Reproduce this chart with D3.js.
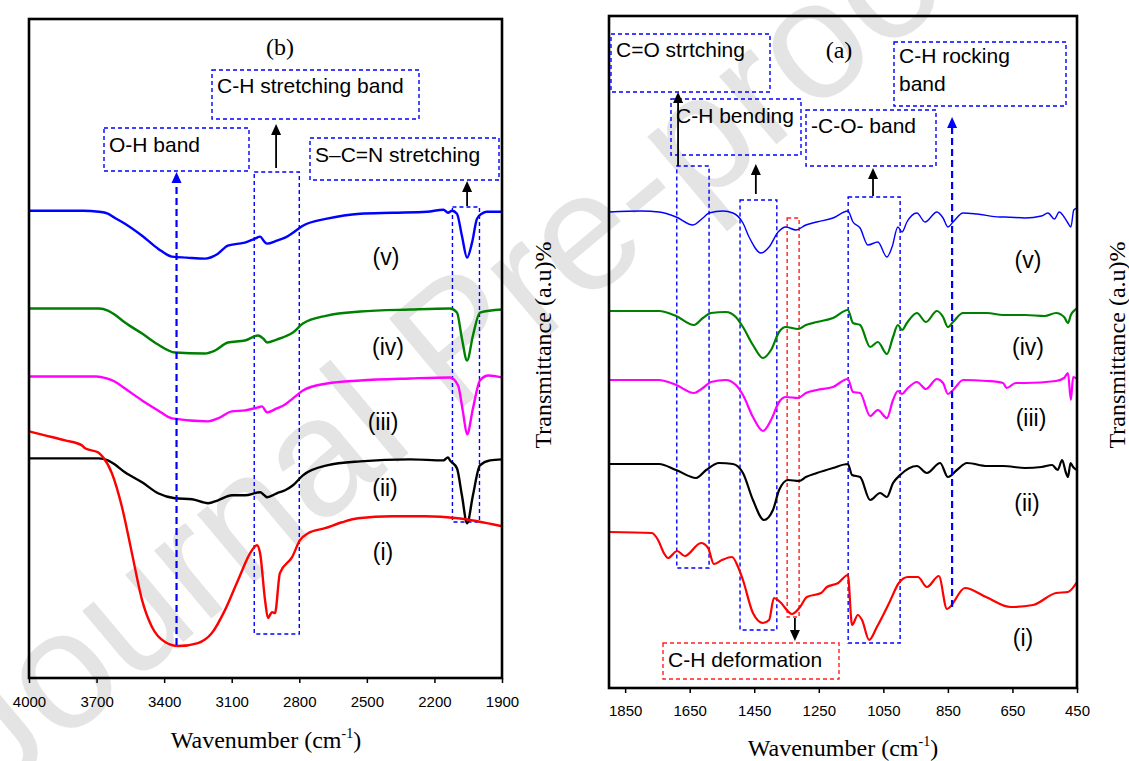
<!DOCTYPE html>
<html>
<head>
<meta charset="utf-8">
<script src="https://cdn.jsdelivr.net/npm/d3@7"></script>
<style>
  body { margin: 0; background: #fff; }
  svg { display: block; }
  .tick text { font-family: "Liberation Sans", Arial, sans-serif; font-size: 15px; fill: #000; }
  .tick line { stroke: #000; stroke-width: 1.5; }
</style>
</head>
<body>
<svg width="1129" height="761"></svg>
<script>
// ---- panel (b): 4000 - 1900 cm-1, transmittance in arbitrary units ----
var ticksB = [4000, 3700, 3400, 3100, 2800, 2500, 2200, 1900];
var labelsB = ["(v)", "(iv)", "(iii)", "(ii)", "(i)"];

var bV = [[4000,468],[3850,468],[3760,468],[3690,467],[3650,465],[3620,461],[3574,455],[3498,443],[3427,430],[3365,422],[3300,421],[3219,420],[3161,425],[3117,433],[3070,435],[3041,436],[2997,440],[2974,442],[2955,437],[2943,435],[2900,438],[2863,441],[2828,446],[2784,453],[2677,460],[2530,465],[2384,466],[2233,467],[2160,469],[2140,466],[2122,468],[2100,465],[2078,443],[2055,421],[2033,436],[2011,460],[1990,465],[1967,467],[1900,467]];
var bIV = [[4000,370],[3850,370],[3690,370],[3650,368],[3620,364],[3574,356],[3498,345],[3427,334],[3352,326],[3219,325],[3174,328],[3117,336],[3041,338],[2983,343],[2960,340],[2943,336],[2900,339],[2863,342],[2828,346],[2784,355],[2677,363],[2530,367],[2308,369],[2131,370],[2100,366],[2078,340],[2055,318],[2029,343],[1998,366],[1900,369]];
var bIII = [[4000,302],[3850,302],[3700,302],[3655,300],[3620,297],[3574,290],[3498,278],[3427,268],[3365,260],[3205,257],[3161,260],[3099,267],[3041,268],[2983,271],[2966,272],[2943,266],[2900,270],[2863,274],[2828,280],[2784,288],[2677,295],[2530,298],[2308,300],[2131,301],[2095,293],[2073,266],[2055,244],[2029,270],[1998,298],[1960,303],[1900,301]];
var bII = [[4000,220],[3850,220],[3690,220],[3650,218],[3620,214],[3574,206],[3498,196],[3427,185],[3352,180],[3276,179],[3205,175],[3161,178],[3099,183],[3041,183],[2974,186],[2955,183],[2943,181],[2900,185],[2863,188],[2828,193],[2784,203],[2677,213],[2530,217],[2308,219],[2160,218],[2140,221],[2131,218],[2100,210],[2078,183],[2055,155],[2029,183],[1998,213],[1953,218],[1900,219]];
var bI = [[4000,247],[3929,243],[3840,238],[3765,233],[3751,230],[3694,226],[3671,221],[3632,205],[3587,171],[3543,125],[3498,78],[3454,51],[3396,36],[3338,32],[3250,35],[3188,45],[3130,68],[3072,98],[3010,128],[2988,133],[2974,125],[2952,78],[2939,60],[2921,66],[2908,65],[2886,105],[2832,121],[2797,138],[2761,145],[2686,150],[2610,156],[2539,160],[2388,162],[2242,162],[2095,160],[1900,152]];

// ---- panel (a): 1900 - 450 cm-1 ----
var ticksA = [1850, 1650, 1450, 1250, 1050, 850, 650, 450];
var labelsA = ["(v)", "(iv)", "(iii)", "(ii)", "(i)"];

var aV = [[1900,476],[1800,477],[1745,476],[1692,471],[1640,463],[1609,470],[1590,475],[1547,477],[1516,475],[1485,465],[1466,451],[1429,435],[1404,441],[1376,456],[1352,461],[1321,458],[1290,463],[1256,466],[1206,470],[1160,477],[1144,466],[1122,460],[1098,443],[1067,446],[1039,431],[1023,441],[1005,461],[992,456],[977,466],[946,475],[921,466],[884,476],[865,470],[850,461],[834,466],[803,475],[760,474],[689,471],[673,471],[611,470],[560,472],[540,475],[520,469],[505,476],[490,471],[480,466],[469,461],[460,478],[450,480]];
var aIV = [[1900,377],[1745,377],[1692,372],[1637,363],[1609,370],[1584,375],[1538,376],[1507,371],[1485,361],[1454,343],[1423,330],[1398,338],[1373,356],[1352,361],[1314,359],[1290,363],[1256,366],[1206,370],[1160,378],[1144,365],[1122,363],[1091,341],[1067,346],[1039,334],[1020,351],[1005,363],[992,358],[977,365],[946,375],[918,366],[884,377],[865,371],[850,361],[834,366],[803,375],[729,375],[679,373],[611,373],[550,372],[515,375],[490,371],[478,365],[469,373],[460,377],[450,380]];
var aIII = [[1900,308],[1745,308],[1692,303],[1637,295],[1609,300],[1584,306],[1538,308],[1507,303],[1485,293],[1454,271],[1423,257],[1398,268],[1373,286],[1352,291],[1314,290],[1290,295],[1256,298],[1206,301],[1160,309],[1144,296],[1122,295],[1091,272],[1067,278],[1039,270],[1020,288],[1005,297],[992,294],[977,299],[946,306],[918,299],[884,309],[865,305],[850,294],[834,298],[803,308],[729,307],[679,305],[668,300],[640,305],[611,305],[515,307],[490,310],[478,315],[469,288],[462,311],[450,309]];
var aII = [[1900,224],[1745,224],[1692,218],[1630,210],[1599,218],[1559,225],[1516,224],[1485,215],[1454,188],[1420,168],[1392,178],[1373,198],[1345,208],[1311,207],[1290,211],[1256,215],[1206,220],[1160,224],[1147,213],[1122,211],[1091,188],[1060,195],[1039,191],[1020,205],[998,213],[946,222],[915,215],[874,225],[850,211],[822,218],[791,225],[729,222],[679,222],[611,220],[560,221],[527,223],[510,218],[496,228],[485,216],[478,211],[470,225],[462,221],[450,218]];
var aI = [[1900,156],[1767,155],[1748,148],[1730,135],[1717,130],[1689,137],[1665,132],[1615,145],[1593,140],[1575,124],[1550,128],[1519,131],[1500,121],[1485,108],[1454,75],[1423,65],[1404,68],[1389,90],[1370,86],[1333,74],[1308,81],[1287,91],[1243,95],[1225,101],[1190,105],[1160,113],[1147,63],[1129,73],[1116,68],[1094,48],[1070,61],[1032,85],[1002,105],[974,111],[943,111],[915,101],[878,112],[853,79],[797,100],[732,91],[655,81],[586,83],[515,95],[478,96],[450,106]];

var colors = ["#0000ff", "#008000", "#ff00ff", "#000000", "#ff0000"];

var svg = d3.select("svg");
var sans = '"Liberation Sans", Arial, sans-serif';
var serif = '"Liberation Serif", "Times New Roman", serif';

// watermark
svg.append("text")
  .attr("transform", "translate(-5,800) rotate(-40)")
  .attr("font-family", sans)
  .attr("font-size", 168)
  .attr("fill", "#e4e4e4")
  .text("Journal Pre-proof");

function drawPanel(p) {
  var x = d3.scaleLinear().domain(p.xDomain).range([p.left, p.right]);
  var y = d3.scaleLinear().domain(p.yDomain).range([p.bottom, p.top]);

  var line = d3.line()
    .x(function(d) { return x(d[0]); })
    .y(function(d) { return y(d[1]); })
    .curve(d3.curveMonotoneX);

  var g = svg.append("g");

  // dashed band boxes behind the curves
  p.bands.forEach(function(b) {
    g.append("rect")
      .attr("x", x(b.w0)).attr("y", b.y0)
      .attr("width", x(b.w1) - x(b.w0)).attr("height", b.y1 - b.y0)
      .attr("fill", "none")
      .attr("stroke", b.color || "#0000ff")
      .attr("stroke-width", 1.4)
      .attr("stroke-dasharray", "4,3");
  });

  p.series.forEach(function(s, i) {
    g.append("path")
      .datum(s)
      .attr("d", line)
      .attr("fill", "none")
      .attr("stroke", colors[i])
      .attr("stroke-width", p.widths[i])
      .attr("stroke-linejoin", "round");
  });

  // frame
  g.append("rect")
    .attr("x", p.left).attr("y", p.top)
    .attr("width", p.right - p.left).attr("height", p.bottom - p.top)
    .attr("fill", "none").attr("stroke", "#000").attr("stroke-width", 2.6);

  var ax = g.append("g")
    .attr("transform", "translate(0," + p.bottom + ")")
    .call(d3.axisBottom(x).tickValues(p.ticks).tickSize(5).tickPadding(p.pad).tickFormat(d3.format("d")));
  ax.select(".domain").remove();

  var t = g.append("text")
    .attr("x", p.titleX).attr("y", p.titleY)
    .attr("text-anchor", "middle")
    .attr("font-family", serif).attr("font-size", 24)
    .text("Wavenumber (cm");
  t.append("tspan").attr("font-size", 14).attr("dy", -10).text("-1");
  t.append("tspan").attr("dy", 10).text(")");

  // spectrum labels
  p.labels.forEach(function(l, i) {
    g.append("text")
      .attr("x", p.labelPos[i][0]).attr("y", p.labelPos[i][1])
      .attr("dy", "0.35em")
      .attr("text-anchor", "middle")
      .attr("font-family", sans).attr("font-size", 23)
      .text(l);
  });

  g.append("text")
    .attr("x", p.tag[1]).attr("y", p.tag[2])
    .attr("text-anchor", "middle")
    .attr("font-family", serif).attr("font-size", 24)
    .text(p.tag[0]);

  // annotation boxes
  p.notes.forEach(function(n) {
    g.append("rect")
      .attr("x", n.x).attr("y", n.y).attr("width", n.w).attr("height", n.h)
      .attr("fill", "none")
      .attr("stroke", n.color || "#0000ff")
      .attr("stroke-width", 1.4)
      .attr("stroke-dasharray", "4,3");
    n.lines.forEach(function(s, k) {
      g.append("text")
        .attr("x", n.x + 5).attr("y", n.base + k * 28)
        .attr("font-family", sans).attr("font-size", 21)
        .text(s);
    });
  });

  // arrows
  p.arrows.forEach(function(a) {
    var ax0 = x(a.w);
    var dir = a.to < a.from ? 1 : -1;
    g.append("line")
      .attr("x1", ax0).attr("x2", ax0)
      .attr("y1", a.from).attr("y2", a.to + dir * 8)
      .attr("stroke", a.color).attr("stroke-width", a.dash ? 2.2 : 1.8)
      .attr("stroke-dasharray", a.dash ? "7,4" : null);
    g.append("path")
      .attr("d", "M" + ax0 + "," + a.to + "L" + (ax0 - 5) + "," + (a.to + dir * 11) +
                 "L" + (ax0 + 5) + "," + (a.to + dir * 11) + "Z")
      .attr("fill", a.color);
  });
}

drawPanel({
  xDomain: [4000, 1900], yDomain: [0, 660],
  left: 29, right: 502, top: 19, bottom: 678,
  ticks: ticksB, pad: 13, titleX: 266, titleY: 748,
  series: [bV, bIV, bIII, bII, bI],
  widths: [2.4, 2.4, 2.4, 2.4, 2.4],
  labels: labelsB,
  labelPos: [[386,257],[388,347],[383,422],[385,488],[383,552]],
  tag: ["(b)", 280, 55],
  bands: [
    {w0: 3000, w1: 2800, y0: 172, y1: 634},
    {w0: 2120, w1: 2000, y0: 207, y1: 522}
  ],
  notes: [
    {x: 212, y: 70, w: 207, h: 49, base: 93, lines: ["C-H stretching band"]},
    {x: 104, y: 128, w: 145, h: 43, base: 152, lines: ["O-H band"]},
    {x: 310, y: 138, w: 189, h: 42, base: 162, lines: ["S\u2013C=N stretching"]}
  ],
  arrows: [
    {w: 2903, from: 168, to: 124, color: "#000"},
    {w: 2055, from: 206, to: 181, color: "#000"},
    {w: 3345, from: 645, to: 172, color: "#0000ff", dash: true}
  ]
});

drawPanel({
  xDomain: [1900, 450], yDomain: [0, 672],
  left: 609, right: 1077, top: 16, bottom: 688,
  ticks: ticksA, pad: 12, titleX: 843, titleY: 756,
  series: [aV, aIV, aIII, aII, aI],
  widths: [1.4, 2.2, 2.2, 2.2, 2.2],
  labels: labelsA,
  labelPos: [[1028,260],[1028,347],[1031,418],[1027,503],[1023,638]],
  tag: ["(a)", 839, 58],
  bands: [
    {w0: 1690, w1: 1590, y0: 166, y1: 568},
    {w0: 1494, w1: 1380, y0: 200, y1: 630},
    {w0: 1348, w1: 1311, y0: 218, y1: 617, color: "#ff2020"},
    {w0: 1159, w1: 998, y0: 197, y1: 643}
  ],
  notes: [
    {x: 611, y: 34, w: 159, h: 58, base: 57, lines: ["C=O strtching"]},
    {x: 894, y: 42, w: 172, h: 64, base: 63, lines: ["C-H rocking", "band"]},
    {x: 671, y: 99, w: 130, h: 56, base: 123, lines: ["C-H bending"]},
    {x: 806, y: 110, w: 130, h: 56, base: 133, lines: ["-C-O- band"]},
    {x: 663, y: 643, w: 176, h: 36, base: 667, lines: ["C-H deformation"], color: "#ff2020"}
  ],
  arrows: [
    {w: 1686, from: 166, to: 92, color: "#000"},
    {w: 1445, from: 194, to: 164, color: "#000"},
    {w: 1082, from: 196, to: 168, color: "#000"},
    {w: 1324, from: 618, to: 641, color: "#000"},
    {w: 837, from: 607, to: 117, color: "#0000ff", dash: true}
  ]
});

// y titles
[551, 1125].forEach(function(cx) {
  svg.append("text")
    .attr("transform", "translate(" + cx + ",345) rotate(-90)")
    .attr("text-anchor", "middle")
    .attr("font-family", serif).attr("font-size", 24)
    .text("Transmittance (a.u)%");
});
</script>
</body>
</html>
